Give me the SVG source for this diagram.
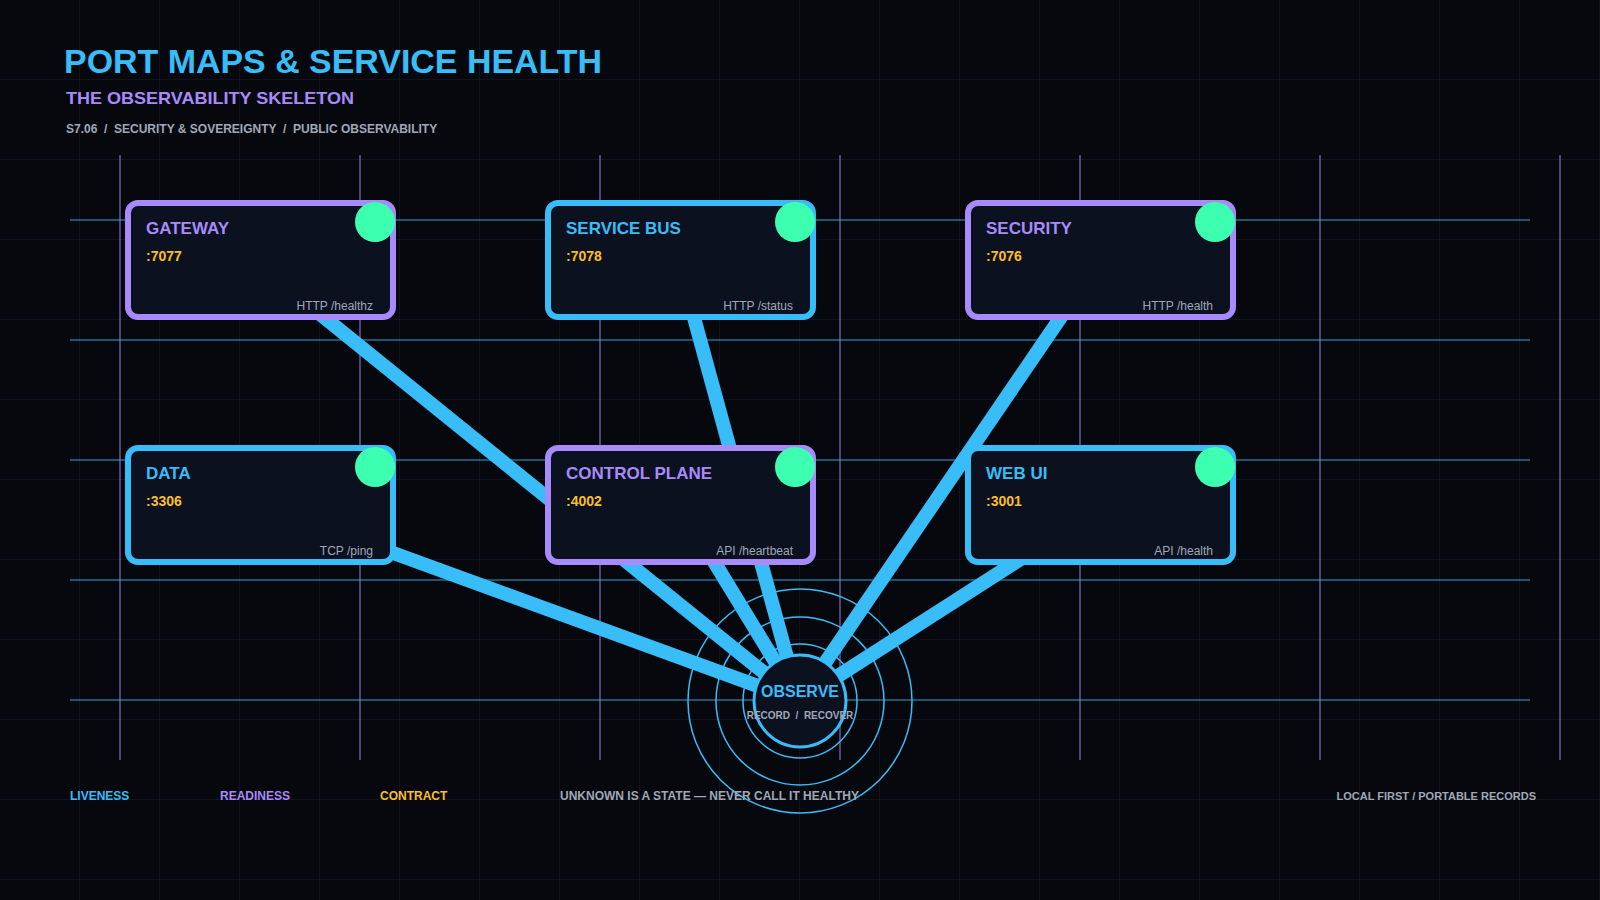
<svg xmlns="http://www.w3.org/2000/svg" width="1600" height="900" viewBox="0 0 1600 900">
<defs>
<pattern id="grid" width="80" height="80" patternUnits="userSpaceOnUse"><path d="M80 0V80M0 80H80" fill="none" stroke="#1a2030" stroke-width="1"/></pattern>
</defs>
<style>
text{font-family:"Liberation Sans",Arial,sans-serif;font-weight:bold}
.box{fill:#0c1120;stroke-width:6}
.p{stroke:#a78bfa}.b{stroke:#38bdf8}
.tp{fill:#a78bfa}.tb{fill:#38bdf8}
.t{font-size:17px}
.port{font-size:14px;fill:#fbbf24}
.foot{font-size:12px;fill:#a0a8b8;font-weight:normal;text-anchor:end}
.dot{fill:#3dffb0}
.vl{stroke:#a78bfa;stroke-width:1;opacity:.9}
.hl{stroke:#38bdf8;stroke-width:1;opacity:.85}
.con{stroke:#38bdf8;stroke-width:14;fill:none}
.ring{fill:none;stroke:#38bdf8;stroke-width:1.5}
.leg{font-size:12px}
</style>
<rect width="1600" height="900" fill="#07080d"/>
<rect width="1600" height="900" fill="url(#grid)"/>
<g id="guides">
<path class="vl" d="M120 155V760M360 155V760M600 155V760M840 155V760M1080 155V760M1320 155V760M1560 155V760"/>
<path class="hl" d="M70 220H1530M70 340H1530M70 460H1530M70 580H1530M70 700H1530"/>
</g>
<g id="header">
<text x="64" y="73" font-size="34" fill="#38bdf8" textLength="538" lengthAdjust="spacingAndGlyphs">PORT MAPS &amp; SERVICE HEALTH</text>
<text x="66" y="104" font-size="17" fill="#a78bfa" textLength="288" lengthAdjust="spacingAndGlyphs">THE OBSERVABILITY SKELETON</text>
<text x="66" y="133" font-size="12" fill="#a0a8b8" xml:space="preserve">S7.06  /  SECURITY &amp; SOVEREIGNTY  /  PUBLIC OBSERVABILITY</text>
</g>
<g id="connectors">
<line class="con" x1="320" y1="314" x2="799" y2="701"/>
<line class="con" x1="693" y1="314" x2="799" y2="701"/>
<line class="con" x1="1063" y1="314" x2="799" y2="701"/>
<line class="con" x1="385" y1="550" x2="799" y2="701"/>
<line class="con" x1="710" y1="555" x2="799" y2="701"/>
<line class="con" x1="1022" y1="558" x2="799" y2="701"/>
</g>
<g id="gateway"><rect class="box p" x="128" y="203" width="265" height="114" rx="10"/><circle class="dot" cx="375" cy="222" r="20"/><text class="t tp" x="146" y="234">GATEWAY</text><text class="port" x="146" y="261">:7077</text><text class="foot" x="373" y="310">HTTP /healthz</text></g>
<g id="servicebus"><rect class="box b" x="548" y="203" width="265" height="114" rx="10"/><circle class="dot" cx="795" cy="222" r="20"/><text class="t tb" x="566" y="234">SERVICE BUS</text><text class="port" x="566" y="261">:7078</text><text class="foot" x="793" y="310">HTTP /status</text></g>
<g id="security"><rect class="box p" x="968" y="203" width="265" height="114" rx="10"/><circle class="dot" cx="1215" cy="222" r="20"/><text class="t tp" x="986" y="234">SECURITY</text><text class="port" x="986" y="261">:7076</text><text class="foot" x="1213" y="310">HTTP /health</text></g>
<g id="data"><rect class="box b" x="128" y="448" width="265" height="114" rx="10"/><circle class="dot" cx="375" cy="467" r="20"/><text class="t tb" x="146" y="479">DATA</text><text class="port" x="146" y="506">:3306</text><text class="foot" x="373" y="555">TCP /ping</text></g>
<g id="controlplane"><rect class="box p" x="548" y="448" width="265" height="114" rx="10"/><circle class="dot" cx="795" cy="467" r="20"/><text class="t tp" x="566" y="479">CONTROL PLANE</text><text class="port" x="566" y="506">:4002</text><text class="foot" x="793" y="555">API /heartbeat</text></g>
<g id="webui"><rect class="box b" x="968" y="448" width="265" height="114" rx="10"/><circle class="dot" cx="1215" cy="467" r="20"/><text class="t tb" x="986" y="479">WEB UI</text><text class="port" x="986" y="506">:3001</text><text class="foot" x="1213" y="555">API /health</text></g>
<g id="observe">
<circle class="ring" cx="800" cy="701" r="57"/>
<circle class="ring" cx="800" cy="701" r="84"/>
<circle class="ring" cx="800" cy="701" r="112"/>
<circle cx="800" cy="701" r="46" fill="#0c1120" stroke="#38bdf8" stroke-width="3"/>
<text x="800" y="697" font-size="16" fill="#38bdf8" text-anchor="middle">OBSERVE</text>
<text x="800" y="719" font-size="10" fill="#a0a8b8" text-anchor="middle" xml:space="preserve">RECORD  /  RECOVER</text>
</g>
<g id="legend">
<text class="leg" x="70" y="800" fill="#38bdf8">LIVENESS</text>
<text class="leg" x="220" y="800" fill="#a78bfa">READINESS</text>
<text class="leg" x="380" y="800" fill="#fbbf24">CONTRACT</text>
<text class="leg" x="560" y="800" fill="#a0a8b8">UNKNOWN IS A STATE — NEVER CALL IT HEALTHY</text>
<text x="1536" y="800" font-size="11" fill="#a0a8b8" text-anchor="end">LOCAL FIRST / PORTABLE RECORDS</text>
</g>
</svg>
